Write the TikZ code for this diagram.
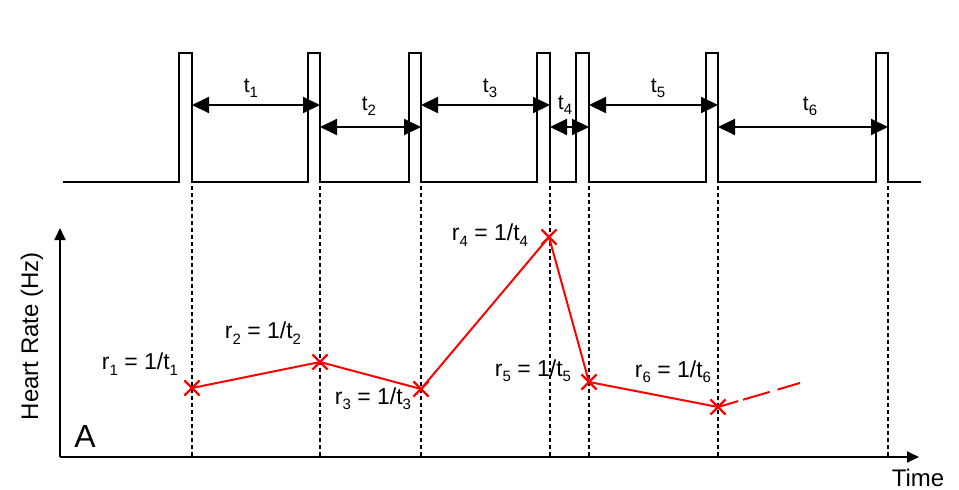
\documentclass[tikz,border=0pt]{standalone}
\usepackage{fontspec}
\setmainfont{Liberation Sans}
\usetikzlibrary{arrows.meta,shapes.misc}
\newcommand{\sbs}[1]{\raisebox{-0.45ex}{\fontsize{15}{15}\selectfont #1}}
\begin{document}
\begin{tikzpicture}[x=1pt,y=-1pt,
  pulse/.style={line width=2pt,line join=miter},
  dim/.style={line width=2pt,{Triangle[length=17pt,width=16pt]}-{Triangle[length=17pt,width=16pt]}},
  guide/.style={line width=1.3pt,dash pattern=on 4pt off 3pt},
  axis/.style={line width=2pt,-{Triangle[length=12pt,width=11pt]}},
  rate/.style={red,line width=2pt},
  xmark/.style={cross out,draw=red,line width=2.2pt,minimum size=13pt,inner sep=0pt},
  lbl/.style={font=\fontsize{23}{23}\selectfont,inner sep=0pt},
  tlbl/.style={font=\fontsize{21}{21}\selectfont,inner sep=0pt}]
\useasboundingbox (0,0) rectangle (959,490);
% pulse train
\draw[pulse] (63,182) -- (179,182) -- (179,53) -- (192,53) -- (192,182)
 -- (308,182) -- (308,53) -- (320,53) -- (320,182)
 -- (409,182) -- (409,53) -- (421,53) -- (421,182)
 -- (537,182) -- (537,53) -- (550,53) -- (550,182)
 -- (576,182) -- (576,53) -- (589,53) -- (589,182)
 -- (706,182) -- (706,53) -- (718,53) -- (718,182)
 -- (876,182) -- (876,53) -- (888,53) -- (888,182) -- (921,182);
\coordinate (e1) at (192,186);
\coordinate (e2) at (320,186);
\coordinate (e3) at (421,186);
\coordinate (e4) at (550,186);
\coordinate (e5) at (589,186);
\coordinate (e6) at (718,186);
\coordinate (e7) at (888,186);
\coordinate (rowA) at (0,105);
\coordinate (rowB) at (0,127);
% axes
\coordinate (o) at (60,457);
\coordinate (ytop) at (60,228);
\coordinate (xend) at (919,457);
\draw[axis] (o) -- (ytop);
\draw[axis] (o) -- (xend);
% guides
\foreach \e in {e1,e2,e3,e4,e5,e6,e7}
  \draw[guide] (\e) -- (\e |- o);
% interval arrows
\draw[dim] (e1 |- rowA) -- (e2 |- rowA);
\draw[dim] (e2 |- rowB) -- (e3 |- rowB);
\draw[dim] (e3 |- rowA) -- (e4 |- rowA);
\draw[dim] (e4 |- rowB) -- (e5 |- rowB);
\draw[dim] (e5 |- rowA) -- (e6 |- rowA);
\draw[dim] (e6 |- rowB) -- (e7 |- rowB);
\node[tlbl] (t1) at (251,88) {t\sbs{1}};
\node[tlbl] (t2) at (369,106) {t\sbs{2}};
\node[tlbl] (t3) at (490,88) {t\sbs{3}};
\node[tlbl] (t4) at (565,105) {t\sbs{4}};
\node[tlbl] (t5) at (658,88) {t\sbs{5}};
\node[tlbl] (t6) at (810,106) {t\sbs{6}};
% rate curve
\node[xmark] (r1) at (192,388) {};
\node[xmark] (r2) at (320,362) {};
\node[xmark] (r3) at (421,389) {};
\node[xmark] (r4) at (549,237) {};
\node[xmark] (r5) at (589,382) {};
\node[xmark] (r6) at (718,407) {};
\coordinate (rend) at (800,383);
\draw[rate] (r1.center) -- (r2.center) -- (r3.center) -- (r4.center) -- (r5.center) -- (r6.center);
\draw[rate,dash pattern=on 21pt off 5pt on 28pt off 8pt on 30pt] (r6.center) -- (rend);
\node[lbl] (l1) at (140,364) {r\sbs{1} = 1/t\sbs{1}};
\node[lbl] (l2) at (263,333) {r\sbs{2} = 1/t\sbs{2}};
\node[lbl] (l3) at (373,399) {r\sbs{3} = 1/t\sbs{3}};
\node[lbl] (l4) at (490,235) {r\sbs{4} = 1/t\sbs{4}};
\node[lbl] (l5) at (533,371) {r\sbs{5} = 1/t\sbs{5}};
\node[lbl] (l6) at (673,372) {r\sbs{6} = 1/t\sbs{6}};
% axis labels
\node[font=\fontsize{24}{24}\selectfont,rotate=90,inner sep=0pt] (ylab) at (32,336) {Heart Rate (Hz)};
\node[font=\fontsize{24}{24}\selectfont,inner sep=0pt] (xlab) at (918,478) {Time};
\node[font=\fontsize{32}{32}\selectfont,inner sep=0pt] (A) at (85,436) {A};
\end{tikzpicture}
\end{document}
